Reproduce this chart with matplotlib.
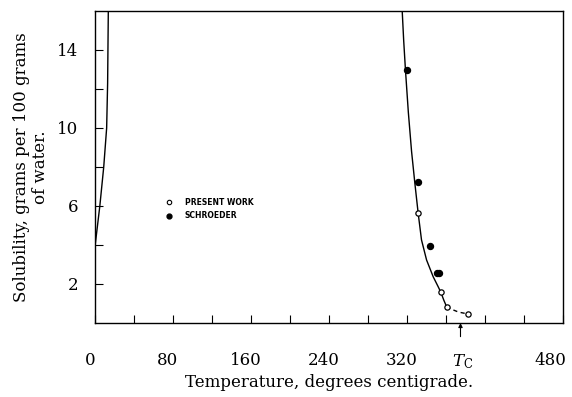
import matplotlib
matplotlib.use("Agg")
import matplotlib.pyplot as plt
from matplotlib.transforms import ScaledTranslation

# Left (low-temperature) branch of the solubility curve
left_T = [0, 5, 9, 12, 13, 13.7]
left_S = [3.9, 6.0, 8.0, 10.0, 12.3, 16.0]

# Right (high-temperature) branch, solid part
right_T = [315.2, 316.7, 318.5, 321.5, 324.8, 328.2, 331.6, 335.0, 340.2,
           347.0, 352.1, 354.9, 357.8, 360.7]
right_S = [16.0, 14.5, 13.0, 10.8, 8.8, 7.16, 5.62, 4.26, 3.23,
           2.37, 1.86, 1.57, 1.18, 0.84]

# Dashed extension towards the critical temperature
dash_T = [360.7, 367, 373, 382.9]
dash_S = [0.84, 0.68, 0.56, 0.46]

# Data points
present_T = [331.6, 354.9, 360.7, 382.9]
present_S = [5.62, 1.57, 0.84, 0.46]
schroeder_T = [320.3, 331.6, 343.6, 350.5, 352.5]
schroeder_S = [12.97, 7.25, 3.97, 2.55, 2.55]

Tc = 375
x_ticks = [0, 40, 80, 120, 160, 200, 240, 280, 320, 360, 400, 440, 480]
x_labels = ["0", "", "80", "", "160", "", "240", "", "320", "", "", "", "480"]
y_ticks = [2, 4, 6, 8, 10, 12, 14]
y_labels = ["2", "", "6", "", "10", "", "14"]

plt.rcParams["font.family"] = ["DejaVu Serif"]
plt.rcParams["mathtext.fontset"] = "dejavuserif"

fig = plt.figure(figsize=(5.72, 3.97), dpi=100)
ax = fig.add_axes([0.166, 0.1864, 0.818, 0.786])

ax.plot(left_T, left_S, color="black", lw=1.0)
ax.plot(right_T, right_S, color="black", lw=1.0)
ax.plot(dash_T, dash_S, color="black", lw=1.0, ls=(0, (3, 2.5)))
ax.plot(schroeder_T, schroeder_S, "o", color="black", ms=4.3, ls="none")
ax.plot(present_T, present_S, "o", mfc="white", mec="black", mew=0.9, ms=3.8, ls="none")

ax.set_xlim(0, 480)
ax.set_ylim(0, 16)
ax.set_xticks(x_ticks, x_labels)
ax.set_xticks([Tc], [r"$T_{\mathrm{C}}$"], minor=True)
ax.set_yticks(y_ticks, y_labels)
ax.tick_params(axis="x", which="major", direction="in", length=6, width=0.8,
               pad=21, labelsize=12)
ax.tick_params(axis="x", which="minor", direction="in", length=0, pad=21, labelsize=12)
ax.tick_params(axis="y", direction="in", length=6, width=0.8, pad=12,
               labelsize=12)
for s in ax.spines.values():
    s.set_linewidth(1.0)

# nudge x tick labels as in the reference
for lab in ax.get_xticklabels():
    dx = -12 if lab.get_text() == "480" else -5
    lab.set_transform(lab.get_transform() + ScaledTranslation(dx / 100, 0, fig.dpi_scale_trans))
for lab in ax.get_xticklabels(minor=True):
    lab.set_transform(lab.get_transform() + ScaledTranslation(2 / 100, 0, fig.dpi_scale_trans))

ax.set_xlabel("Temperature, degrees centigrade.", fontsize=12, labelpad=2)
ax.set_ylabel("Solubility, grams per 100 grams\nof water.", fontsize=12,
              labelpad=6, linespacing=1.1)

# Arrow marking the critical temperature
ax.annotate("", xy=(Tc, 0), xytext=(Tc, -0.7),
            arrowprops=dict(arrowstyle="-|>", color="black", lw=0.8,
                            mutation_scale=6, shrinkA=0, shrinkB=0),
            annotation_clip=False)

# Legend drawn as text with markers
ax.plot([76], [6.2], "o", mfc="white", mec="black", mew=0.8, ms=3.2)
ax.plot([76], [5.5], "o", color="black", ms=3.5)
ax.text(92, 6.2, "PRESENT WORK", fontsize=5.5, fontweight="bold",
        family="DejaVu Sans", va="center")
ax.text(92, 5.5, "SCHROEDER", fontsize=5.5, fontweight="bold",
        family="DejaVu Sans", va="center")

fig.savefig("out.png", dpi=100)
